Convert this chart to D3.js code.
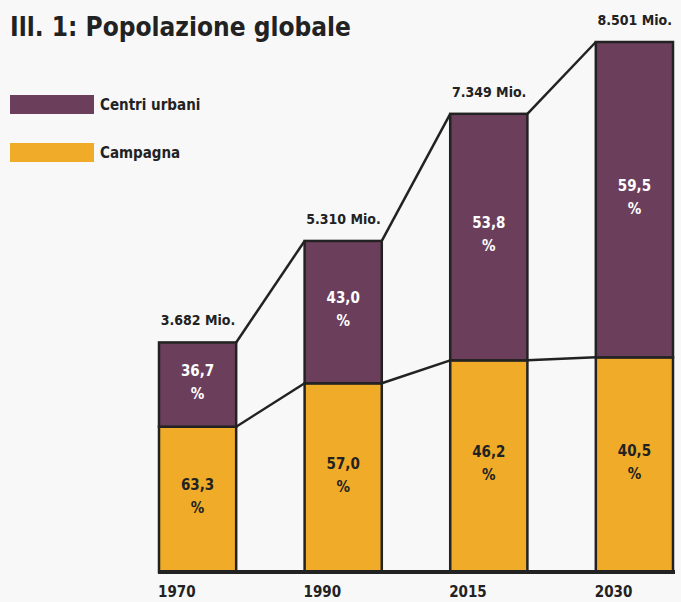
<!DOCTYPE html>
<html>
<head>
<meta charset="utf-8">
<script src="https://cdn.jsdelivr.net/npm/d3@7"></script>
<style>
  html, body { margin: 0; padding: 0; background: #f8f8f8; }
  svg { display: block; font-family: "DejaVu Sans Condensed", "DejaVu Sans", sans-serif; }
</style>
</head>
<body>
<div id="chart"></div>
<script>
// data
const years = ['1970', '1990', '2015', '2030'];
const totals = [3682, 5310, 7349, 8501];          // millions
const totalLabels = ['3.682 Mio.', '5.310 Mio.', '7.349 Mio.', '8.501 Mio.'];
const urbanPct = [36.7, 43.0, 53.8, 59.5];
const ruralPct = [63.3, 57.0, 46.2, 40.5];
const seriesNames = ['Centri urbani', 'Campagna'];

const width = 681;
const height = 602;
const colors = { urban: '#6b3f5c', rural: '#f0ab28', ink: '#222222' };

const fmt = v => v.toFixed(1).replace('.', ',');

const rows = years.map((yr, i) => ({
  year: yr,
  total: totals[i],
  label: totalLabels[i],
  urban: urbanPct[i],
  rural: ruralPct[i],
  ruralAbs: totals[i] * ruralPct[i] / 100
}));

const svg = d3.select('#chart').append('svg')
  .attr('width', width)
  .attr('height', height);

svg.append('rect')
  .attr('width', width).attr('height', height)
  .attr('fill', '#f8f8f8');

// scales
const x = d3.scaleBand()
  .domain(years)
  .range([159, 673])
  .paddingInner(0.47)
  .paddingOuter(0);

const y = d3.scaleLinear()
  .domain([0, 8501])
  .range([572, 42]);

// connector lines (top and split)
const pairs = d3.pairs(rows);
svg.append('g').selectAll('line.top')
  .data(pairs)
  .join('line')
  .attr('x1', d => x(d[0].year) + x.bandwidth())
  .attr('y1', d => y(d[0].total))
  .attr('x2', d => x(d[1].year))
  .attr('y2', d => y(d[1].total))
  .attr('stroke', colors.ink)
  .attr('stroke-width', 2.5);

svg.append('g').selectAll('line.mid')
  .data(pairs)
  .join('line')
  .attr('x1', d => x(d[0].year) + x.bandwidth())
  .attr('y1', d => y(d[0].ruralAbs))
  .attr('x2', d => x(d[1].year))
  .attr('y2', d => y(d[1].ruralAbs))
  .attr('stroke', colors.ink)
  .attr('stroke-width', 2.5);

// bars
const bars = svg.append('g').selectAll('g')
  .data(rows)
  .join('g');

bars.append('rect')
  .attr('x', d => x(d.year))
  .attr('y', d => y(d.ruralAbs))
  .attr('width', x.bandwidth())
  .attr('height', d => y(0) - y(d.ruralAbs))
  .attr('fill', colors.rural)
  .attr('stroke', colors.ink)
  .attr('stroke-width', 2.5);

bars.append('rect')
  .attr('x', d => x(d.year))
  .attr('y', d => y(d.total))
  .attr('width', x.bandwidth())
  .attr('height', d => y(d.ruralAbs) - y(d.total))
  .attr('fill', colors.urban)
  .attr('stroke', colors.ink)
  .attr('stroke-width', 2.5);

// baseline
svg.append('line')
  .attr('x1', x(years[0]) - 1)
  .attr('x2', x(years[years.length - 1]) + x.bandwidth() + 2)
  .attr('y1', y(0)).attr('y2', y(0))
  .attr('stroke', colors.ink)
  .attr('stroke-width', 4);

// percentage labels
function pctLabel(sel, valueFn, midFn, fill) {
  const t = sel.append('text')
    .attr('text-anchor', 'middle')
    .attr('font-size', 15)
    .attr('font-weight', 'bold')
    .attr('fill', fill);
  t.append('tspan')
    .attr('x', d => x(d.year) + x.bandwidth() / 2)
    .attr('y', d => midFn(d) - 9)
    .text(d => fmt(valueFn(d)));
  t.append('tspan')
    .attr('x', d => x(d.year) + x.bandwidth() / 2)
    .attr('y', d => midFn(d) + 14)
    .text('%');
}
pctLabel(bars, d => d.urban, d => (y(d.total) + y(d.ruralAbs)) / 2, '#ffffff');
pctLabel(bars, d => d.rural, d => (y(d.ruralAbs) + y(0)) / 2, colors.ink);

// totals
bars.append('text')
  .attr('x', d => x(d.year) + x.bandwidth() - 1)
  .attr('y', d => y(d.total) - 17)
  .attr('text-anchor', 'end')
  .attr('font-size', 14)
  .attr('font-weight', 'bold')
  .attr('fill', colors.ink)
  .text(d => d.label);

// year labels
svg.append('g').selectAll('text')
  .data(years)
  .join('text')
  .attr('x', d => x(d) - 1)
  .attr('y', 597)
  .attr('font-size', 15)
  .attr('font-weight', 'bold')
  .attr('fill', colors.ink)
  .text(d => d);

// title
svg.append('text')
  .attr('x', 10)
  .attr('y', 36)
  .attr('font-size', 26)
  .attr('font-weight', 'bold')
  .attr('fill', colors.ink)
  .text('Ill. 1: Popolazione globale');

// legend
const legend = svg.append('g').selectAll('g')
  .data(seriesNames)
  .join('g')
  .attr('transform', (d, i) => `translate(10, ${95 + i * 48})`);

legend.append('rect')
  .attr('width', 84)
  .attr('height', 19)
  .attr('fill', (d, i) => i === 0 ? colors.urban : colors.rural);

legend.append('text')
  .attr('x', 90)
  .attr('y', 15)
  .attr('font-size', 15)
  .attr('font-weight', 'bold')
  .attr('fill', colors.ink)
  .text(d => d);
</script>
</body>
</html>
